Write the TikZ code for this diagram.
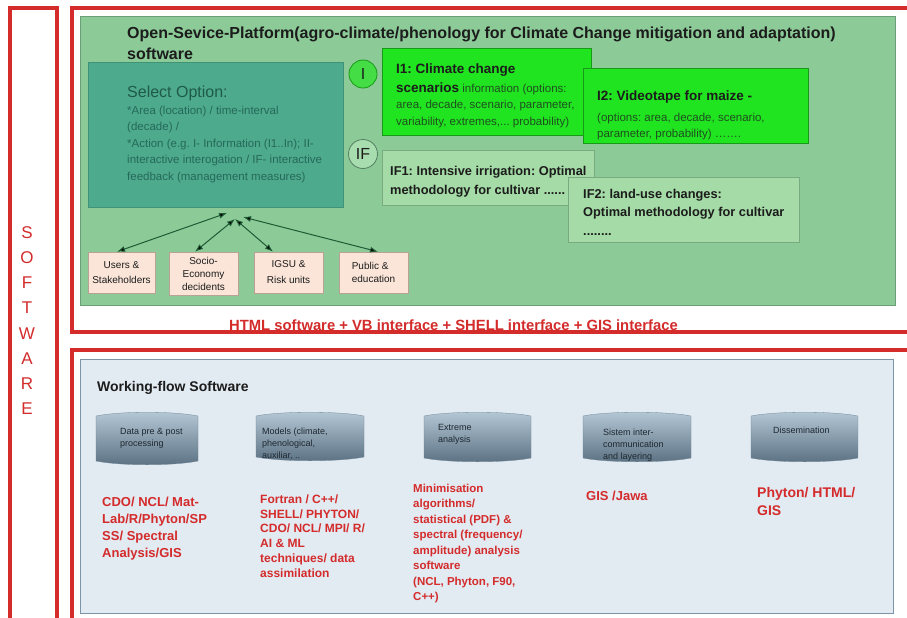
\documentclass[tikz,border=0pt]{standalone}
\usepackage{fontspec}
\setmainfont{Liberation Sans}
\usetikzlibrary{arrows.meta,calc}
\definecolor{cRed}{HTML}{D42B2B}
\definecolor{gPanel}{HTML}{8CCB97}
\definecolor{gBorder}{HTML}{6A9F78}
\definecolor{selFill}{HTML}{4EAA8C}
\definecolor{selBorder}{HTML}{3F9478}
\definecolor{selHead}{HTML}{1E5A4A}
\definecolor{selBody}{HTML}{25695A}
\definecolor{bGreen}{HTML}{1FE41F}
\definecolor{bGreenD}{HTML}{189A18}
\definecolor{lGreen}{HTML}{A4DBA6}
\definecolor{lGreenD}{HTML}{7AAA80}
\definecolor{cI}{HTML}{45DD45}
\definecolor{cIF}{HTML}{A8DDB0}
\definecolor{peach}{HTML}{FAE5D8}
\definecolor{peachD}{HTML}{B9A293}
\definecolor{arrC}{HTML}{1F5A35}
\definecolor{bPanel}{HTML}{E2EAF2}
\definecolor{bBorder}{HTML}{7D93A8}
\definecolor{cylTop}{HTML}{B5C8D6}
\definecolor{cylMid}{HTML}{8DA3B4}
\definecolor{cylBot}{HTML}{5B7182}
\definecolor{cylEdge}{HTML}{6F8597}
\definecolor{dark}{HTML}{1C1C1C}
\definecolor{smallTxt}{HTML}{1F4F1F}
\definecolor{cylTxt}{HTML}{1E2830}
\newcommand\fsz[2]{\fontsize{#1}{#2}\selectfont}
\newcommand\tst{\rule{0pt}{1em}}
\newcommand\drawbarrel[4]{\shade[top color=cylTop, middle color=cylMid, bottom color=cylBot, draw=cylEdge, line width=0.3pt]
 (#1,#2+4) .. controls (#1+25,#2-1) and (#3-25,#2-1) .. (#3,#2+4) -- (#3,#4-4)
 .. controls (#3-25,#4+1) and (#1+25,#4+1) .. (#1,#4-4) -- cycle;}
\frenchspacing
\begin{document}
\frenchspacing
\begin{tikzpicture}[x=1pt,y=-1pt,
  frame/.style={draw=cRed, line width=3.2pt},
  txt/.style={inner sep=0pt, anchor=north west, align=left},
  boxn/.style={anchor=north west, inner sep=0pt, line width=0.8pt},
  peachbox/.style={draw=peachD, fill=peach, line width=0.6pt, inner sep=0pt, align=center, text=dark},
  arr/.style={draw=arrC, line width=1pt, {Latex[length=8pt,width=6pt,fill=black]}-{Latex[length=8pt,width=6pt,fill=black]}},
  redtxt/.style={txt, text=cRed},
  cyltxt/.style={txt, text=cylTxt, font=\fsz{9}{12}}
]
\useasboundingbox (0,0) rectangle (907,618);
\fill[white] (0,0) rectangle (907,618);

% frames
\draw[frame] (10,8) rectangle (57,640);
\draw[frame] (72,8) rectangle (930,332);
\draw[frame] (72,350) rectangle (930,640);

\node[inner sep=0pt, anchor=north, align=center, text=cRed, font=\fsz{17}{25.2}] (sw) at (27,221) {\tst S\\O\\F\\T\\W\\A\\R\\E};

% green panel
\node[boxn, draw=gBorder, fill=gPanel, minimum width=815, minimum height=289] (panel) at (80,16) {};
\node[txt, font=\fsz{16}{21}\bfseries, text=dark] (title) at (127,22.5) {\tst Open-Sevice-Platform(agro-climate/phenology for Climate Change mitigation and adaptation)\\software};

% select option
\node[boxn, draw=selBorder, fill=selFill, minimum width=255, minimum height=145] (sel) at (88,62) {};
\node[txt, font=\fsz{16}{17}, text=selHead] (selhead) at (127,81) {\tst Select Option:};
\node[txt, font=\fsz{11.5}{16.5}, text=selBody] (selbody) at (127,102.5) {\tst *Area (location) / time-interval\\(decade) /\\*Action (e.g. I- Information (I1..In); II-\\interactive interogation / IF- interactive\\feedback (management measures)};

% circles
\node[circle, draw=bGreenD, fill=cI, line width=0.8pt, minimum size=28, inner sep=0pt, font=\fsz{16}{16}, text=dark] (ci) at (363,74) {I};
\node[circle, draw=gBorder!80!black, fill=cIF, line width=0.8pt, minimum size=29, inner sep=0pt, font=\fsz{16}{16}, text=dark] (cif) at (363,154) {IF};

% I boxes
\node[boxn, draw=bGreenD, fill=bGreen, minimum width=209, minimum height=87] (i1box) at (382,48) {};
\node[txt, font=\fsz{13.5}{16}\bfseries, text=dark] (i1t) at (396,59.5) {\tst I1: Climate change};
\node[txt, font=\fsz{11.5}{16.5}, text=smallTxt] (i1b) at (396,80.5) {\tst{\fsz{13.5}{16.5}\bfseries\color{dark}scenarios} information (options:\\area, decade, scenario, parameter,\\variability, extremes,... probability)};

\node[boxn, draw=bGreenD, fill=bGreen, minimum width=225, minimum height=75] (i2box) at (583,68) {};
\node[txt, font=\fsz{13.5}{16}\bfseries, text=dark] (i2t) at (597,86.5) {\tst I2: Videotape for maize -};
\node[txt, font=\fsz{11.5}{16}, text=smallTxt] (i2b) at (597,109.5) {\tst (options: area, decade, scenario,\\parameter, probability) …….};

% IF boxes
\node[boxn, draw=lGreenD, fill=lGreen, minimum width=212, minimum height=55] (if1box) at (382,150) {};
\node[txt, font=\fsz{12.8}{19}\bfseries, text=dark] (if1t) at (390,162.2) {\tst IF1: Intensive irrigation: Optimal\\methodology for cultivar ......};
\node[boxn, draw=lGreenD, fill=lGreen, minimum width=231, minimum height=65] (if2box) at (568,177) {};
\node[txt, font=\fsz{12.8}{18.5}\bfseries, text=dark] (if2t) at (583,185.2) {\tst IF2: land-use changes:\\Optimal methodology for cultivar\\........};

% stakeholder boxes
\node[peachbox, minimum width=67, minimum height=41, font=\fsz{10}{15}] (users) at (121.5,272.5) {Users \&\\Stakeholders};
\node[peachbox, minimum width=69, minimum height=43, font=\fsz{10}{13}] (socio) at (203.5,273.5) {Socio-\\Economy\\decidents};
\node[peachbox, minimum width=69, minimum height=41, font=\fsz{10}{16}] (igsu) at (288.5,272.5) {IGSU \&\\Risk units};
\node[peachbox, minimum width=69, minimum height=41, font=\fsz{10}{13.5}, align=left] (public) at (373.5,272.5) {Public \&\\education};

\coordinate (hubA) at (227,213);
\coordinate (hubB) at (235,219);
\coordinate (hubC) at (243,217);
\draw[arr] (hubA) -- ([xshift=-4.5pt]users.north);
\draw[arr] (hubB) -- ([xshift=-8.5pt]socio.north);
\draw[arr] (hubB) -- ([xshift=-15.5pt]igsu.north);
\draw[arr] (hubC) -- ([xshift=4.5pt]public.north);

\node[inner sep=0pt, anchor=base, font=\fsz{14.8}{17}\bfseries, text=cRed] (iface) at (453.5,330) {HTML software + VB interface + SHELL interface + GIS interface};

% bottom panel
\node[boxn, draw=bBorder, fill=bPanel, minimum width=813, minimum height=254] (bpanel) at (80,359) {};
\node[txt, font=\fsz{14}{17}\bfseries, text=dark] (wf) at (97,377) {\tst Working-flow Software};

\drawbarrel{96}{412}{198}{465}
\drawbarrel{256}{412}{364}{461}
\drawbarrel{424}{412}{531}{462}
\drawbarrel{583}{412}{691}{462}
\drawbarrel{751}{412}{858}{462}

\node[cyltxt] (c1) at (120,425) {\tst Data pre \& post\\processing};
\node[cyltxt] (c2) at (262,425) {\tst Models (climate,\\phenological,\\auxiliar, ..};
\node[cyltxt] (c3) at (438,421) {\tst Extreme\\analysis};
\node[cyltxt] (c4) at (603,426) {\tst Sistem inter-\\communication\\and layering};
\node[cyltxt] (c5) at (773,424) {\tst Dissemination};

\node[redtxt, font=\fsz{13}{17}\bfseries] (r1) at (102,493) {\tst CDO/ NCL/ Mat-\\Lab/R/Phyton/SP\\SS/ Spectral\\Analysis/GIS};
\node[redtxt, font=\fsz{12}{14.8}\bfseries] (r2) at (260,491) {\tst Fortran / C++/\\SHELL/ PHYTON/\\CDO/ NCL/ MPI/ R/\\AI \& ML\\techniques/ data\\assimilation};
\node[redtxt, font=\fsz{11.5}{15.5}\bfseries] (r3) at (413,480.5) {\tst Minimisation\\algorithms/\\statistical (PDF) \&\\spectral (frequency/\\amplitude) analysis\\software\\(NCL, Phyton, F90,\\C++)};
\node[redtxt, font=\fsz{13}{17}\bfseries] (r4) at (586,487) {\tst GIS /Jawa};
\node[redtxt, font=\fsz{14}{18}\bfseries] (r5) at (757,483) {\tst Phyton/ HTML/\\GIS};
\end{tikzpicture}
\end{document}
